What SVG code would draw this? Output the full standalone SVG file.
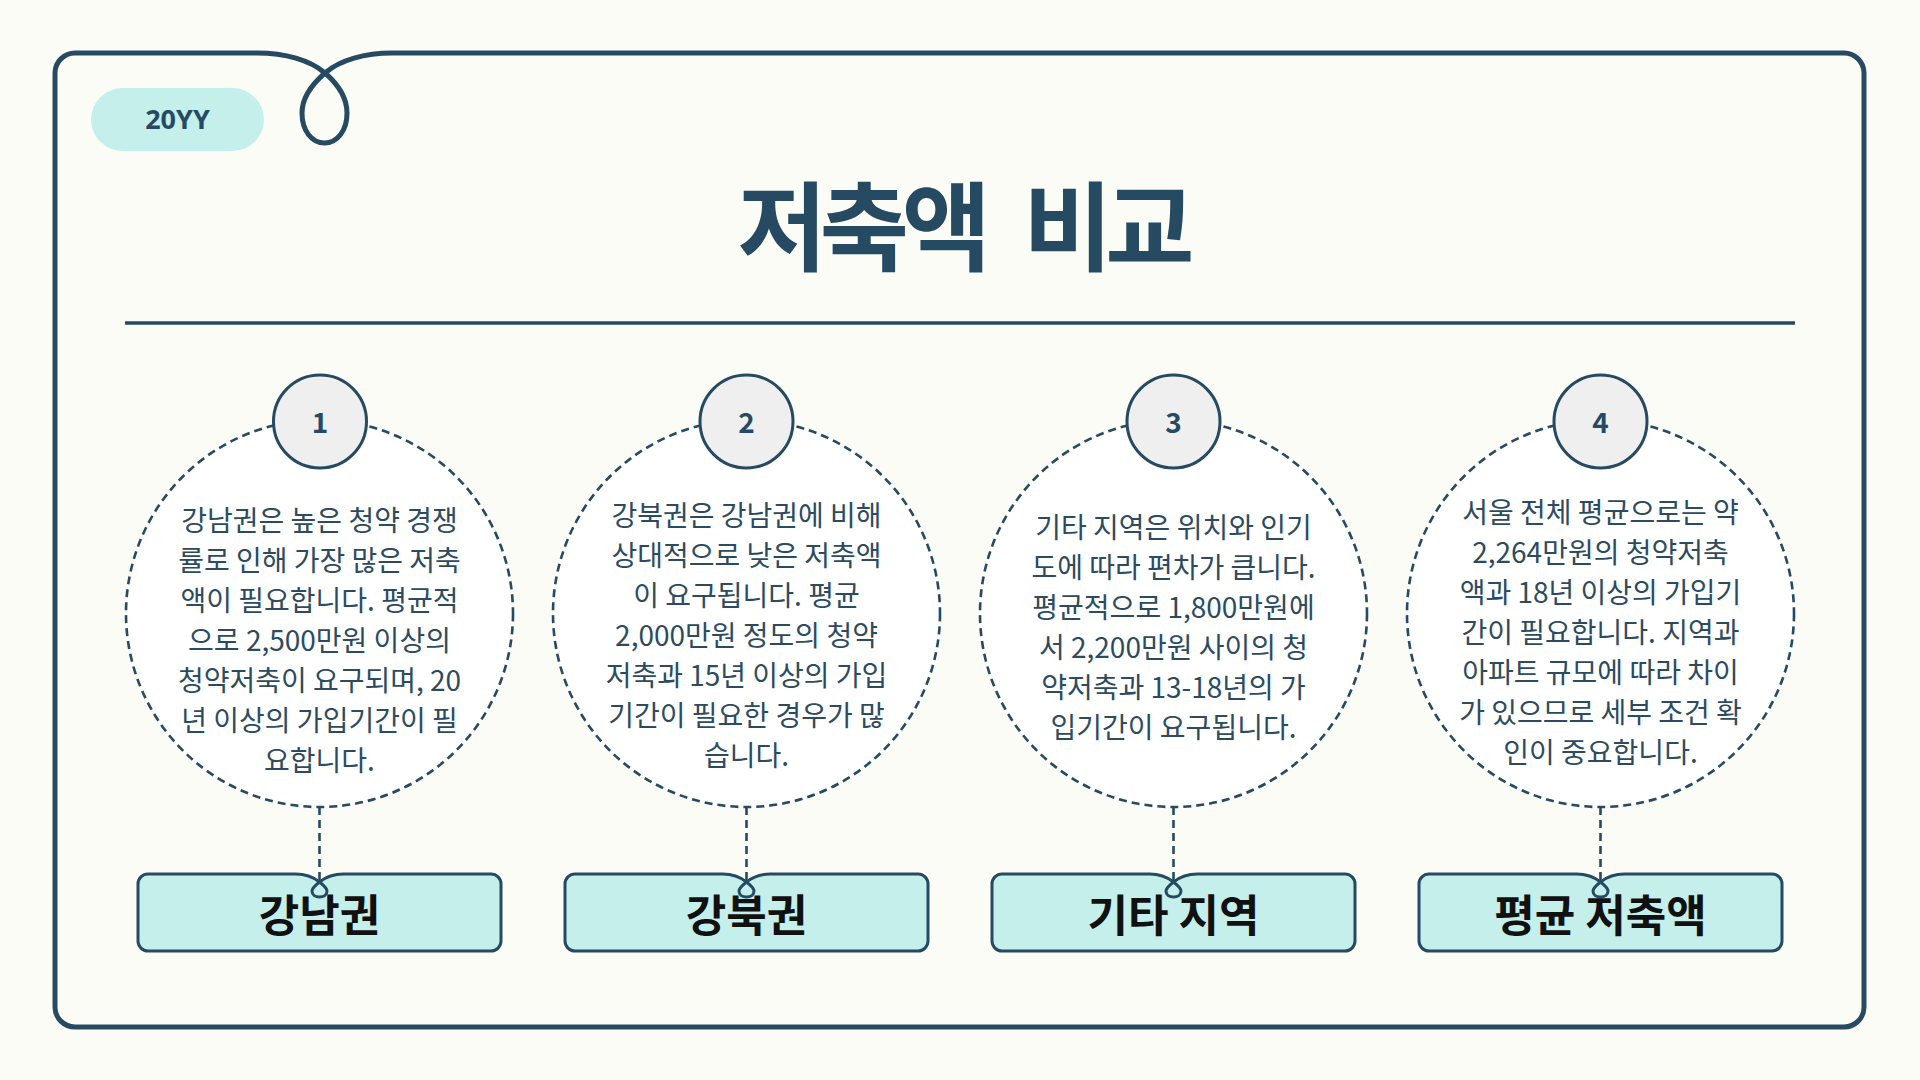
<svg xmlns="http://www.w3.org/2000/svg" width="1920" height="1080" viewBox="0 0 1920 1080">
<style>
.frame{fill:none;stroke:#264a62;stroke-width:5;stroke-linejoin:round}
.big{fill:#ffffff;stroke:#264a62;stroke-width:2.6;stroke-dasharray:8 5}
.num{fill:#efefef;stroke:#264a62;stroke-width:3}
.numt{font-family:"Noto Sans CJK KR","Noto Sans",sans-serif;font-weight:700;font-size:28px;fill:#264a62;text-anchor:middle}
.body{font-family:"Noto Sans CJK KR","Noto Sans KR",sans-serif;font-size:28px;fill:#2c4b60;text-anchor:middle}
.lab{fill:#c4efeb;stroke:#264a62;stroke-width:3}
.labt{font-family:"Noto Sans CJK KR",sans-serif;font-weight:700;font-size:44px;fill:#111111;text-anchor:middle}
.conn{fill:none;stroke:#264a62;stroke-width:2.6;stroke-dasharray:8 5}
</style>
<rect width="1920" height="1080" fill="#fcfcf7"/>
<path class="frame" d="M392 53 H1844 A20 20 0 0 1 1864 73 V1007 A20 20 0 0 1 1844 1027 H75 A20 20 0 0 1 55 1007 V73 A20 20 0 0 1 75 53 H257 C285 53 310 60 325 73 C340 86 347 100 347 113 C347 131 337 143 324.5 143 C312 143 302 131 302 113 C302 100 310 86 325 73 C340 60 365 53 392 53 Z"/>
<g id="badge">
<rect x="91" y="88" width="173" height="63" rx="31.5" fill="#c4efeb"/>
<text x="177.5" y="129" font-family="'Noto Sans','Noto Sans CJK KR',sans-serif" font-weight="700" font-size="27" fill="#264a62" text-anchor="middle">20YY</text>
</g>
<g id="title">
<text x="962.5" y="263" font-family="'Noto Sans CJK KR',sans-serif" font-weight="700" font-size="97" letter-spacing="-7" word-spacing="24" fill="#264a62" text-anchor="middle">저축액 비교</text>
<line x1="125" y1="323" x2="1795" y2="323" stroke="#264a62" stroke-width="3.5"/>
</g>
<g id="connectors">
<line class="conn" x1="319.5" y1="807" x2="319.5" y2="881"/>
<line class="conn" x1="746.5" y1="807" x2="746.5" y2="881"/>
<line class="conn" x1="1173.5" y1="807" x2="1173.5" y2="881"/>
<line class="conn" x1="1600.5" y1="807" x2="1600.5" y2="881"/>
</g>
<g id="node1">
<circle class="big" cx="319.5" cy="613.5" r="193.5"/>
<circle class="num" cx="320" cy="421.5" r="46.5"/>
<text class="numt" x="320" y="433">1</text>
<text class="body"><tspan x="319.5" y="531">강남권은 높은 청약 경쟁</tspan><tspan x="319.5" y="571">률로 인해 가장 많은 저축</tspan><tspan x="319.5" y="611">액이 필요합니다. 평균적</tspan><tspan x="319.5" y="651">으로 2,500만원 이상의</tspan><tspan x="319.5" y="691">청약저축이 요구되며, 20</tspan><tspan x="319.5" y="731">년 이상의 가입기간이 필</tspan><tspan x="319.5" y="771">요합니다.</tspan></text>
</g>
<g id="node2">
<circle class="big" cx="746.5" cy="613.5" r="193.5"/>
<circle class="num" cx="746.5" cy="421.5" r="46.5"/>
<text class="numt" x="746.5" y="433">2</text>
<text class="body"><tspan x="746.5" y="526">강북권은 강남권에 비해</tspan><tspan x="746.5" y="566">상대적으로 낮은 저축액</tspan><tspan x="746.5" y="606">이 요구됩니다. 평균</tspan><tspan x="746.5" y="646">2,000만원 정도의 청약</tspan><tspan x="746.5" y="686">저축과 15년 이상의 가입</tspan><tspan x="746.5" y="726">기간이 필요한 경우가 많</tspan><tspan x="746.5" y="766">습니다.</tspan></text>
</g>
<g id="node3">
<circle class="big" cx="1173.5" cy="613.5" r="193.5"/>
<circle class="num" cx="1173.5" cy="421.5" r="46.5"/>
<text class="numt" x="1173.5" y="433">3</text>
<text class="body"><tspan x="1173.5" y="538">기타 지역은 위치와 인기</tspan><tspan x="1173.5" y="578">도에 따라 편차가 큽니다.</tspan><tspan x="1173.5" y="618">평균적으로 1,800만원에</tspan><tspan x="1173.5" y="658">서 2,200만원 사이의 청</tspan><tspan x="1173.5" y="698">약저축과 13-18년의 가</tspan><tspan x="1173.5" y="738">입기간이 요구됩니다.</tspan></text>
</g>
<g id="node4">
<circle class="big" cx="1600.5" cy="613.5" r="193.5"/>
<circle class="num" cx="1600.5" cy="421.5" r="46.5"/>
<text class="numt" x="1600.5" y="433">4</text>
<text class="body"><tspan x="1600.5" y="523">서울 전체 평균으로는 약</tspan><tspan x="1600.5" y="563">2,264만원의 청약저축</tspan><tspan x="1600.5" y="603">액과 18년 이상의 가입기</tspan><tspan x="1600.5" y="643">간이 필요합니다. 지역과</tspan><tspan x="1600.5" y="683">아파트 규모에 따라 차이</tspan><tspan x="1600.5" y="723">가 있으므로 세부 조건 확</tspan><tspan x="1600.5" y="763">인이 중요합니다.</tspan></text>
</g>
<g id="label1">
<path class="lab" d="M343.5 874 H491 A10 10 0 0 1 501 884 V941 A10 10 0 0 1 491 951 H148 A10 10 0 0 1 138 941 V884 A10 10 0 0 1 148 874 H295.5 C307.5 874 314.5 878 319.5 882 C324.5 886 327 889 327 891 C327 895 323.5 897 319.5 897 C315.5 897 312 895 312 891 C312 889 314.5 886 319.5 882 C324.5 878 331.5 874 343.5 874 Z"/>
<text class="labt" x="319.5" y="932">강남권</text>
</g>
<g id="label2">
<path class="lab" d="M770.5 874 H918 A10 10 0 0 1 928 884 V941 A10 10 0 0 1 918 951 H575 A10 10 0 0 1 565 941 V884 A10 10 0 0 1 575 874 H722.5 C734.5 874 741.5 878 746.5 882 C751.5 886 754 889 754 891 C754 895 750.5 897 746.5 897 C742.5 897 739 895 739 891 C739 889 741.5 886 746.5 882 C751.5 878 758.5 874 770.5 874 Z"/>
<text class="labt" x="746.5" y="932">강북권</text>
</g>
<g id="label3">
<path class="lab" d="M1197.5 874 H1345 A10 10 0 0 1 1355 884 V941 A10 10 0 0 1 1345 951 H1002 A10 10 0 0 1 992 941 V884 A10 10 0 0 1 1002 874 H1149.5 C1161.5 874 1168.5 878 1173.5 882 C1178.5 886 1181 889 1181 891 C1181 895 1177.5 897 1173.5 897 C1169.5 897 1166 895 1166 891 C1166 889 1168.5 886 1173.5 882 C1178.5 878 1185.5 874 1197.5 874 Z"/>
<text class="labt" x="1173.5" y="932">기타 지역</text>
</g>
<g id="label4">
<path class="lab" d="M1624.5 874 H1772 A10 10 0 0 1 1782 884 V941 A10 10 0 0 1 1772 951 H1429 A10 10 0 0 1 1419 941 V884 A10 10 0 0 1 1429 874 H1576.5 C1588.5 874 1595.5 878 1600.5 882 C1605.5 886 1608 889 1608 891 C1608 895 1604.5 897 1600.5 897 C1596.5 897 1593 895 1593 891 C1593 889 1595.5 886 1600.5 882 C1605.5 878 1612.5 874 1624.5 874 Z"/>
<text class="labt" x="1600.5" y="932">평균 저축액</text>
</g>
</svg>
